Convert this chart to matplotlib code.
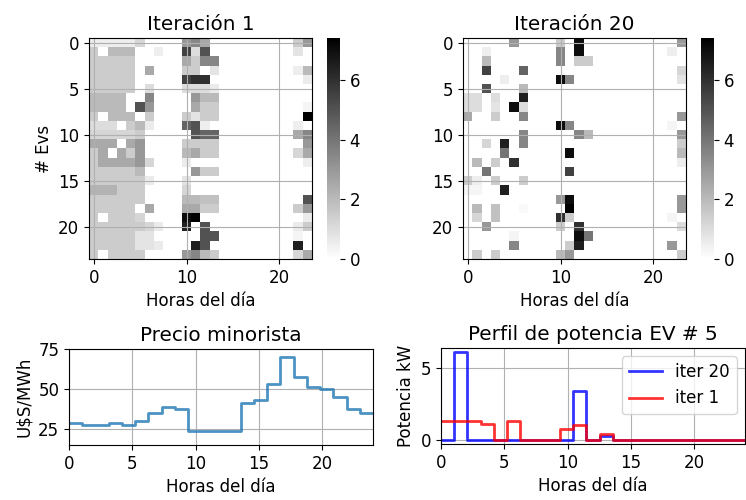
import numpy as np
import matplotlib
matplotlib.use('Agg')
import matplotlib.pyplot as plt

plt.rcParams['font.size'] = 12

# Carga de EVs (kW) por hora, iteracion 1 y 20 (24 EVs x 24 horas)
carga_iter1 = [
    [0.5,0.5,0.5,0.5,0.5,1.2,0,0,0,0,3,3.5,2.5,0,0,0,0,0,0,0,0,0,1.5,3],
    [1.5,0,2,2,2,0,0,0.5,0,0,5.5,1,5,0,0,0,0,0,0,0,0,0,0.8,0],
    [1.5,1.5,1.5,1.5,1.5,0,0,0,0,0,2.5,1.5,3.5,3.5,0,0,0,0,0,0,0,0,0,0],
    [1.5,1.5,1.5,1.5,1.5,0,2.5,0,0,0,1.5,1.5,0,0.8,0,0,0,0,0,0,0,0,0.5,2],
    [1.5,1.5,1.5,1.5,1.5,0,0,0,0,0,5.5,6,6,0,0,0,0,0,0,0,0,0,0,0.6],
    [1.5,1.5,1.5,1.5,1.5,0,1,0,0,0,1,1,1,0.6,0,0,0,0,0,0,0,0,0,0],
    [2,2,2,2,0,0,3.5,0,0,0,0,3,2,2,0,0,0,0,0,0,0,0,0,0],
    [2,2,2,2,0,5,3,0,0,0,0,2.5,1.5,1.5,0,0,0,0,0,0,0,0,0,0.3],
    [1.5,0,2,2,2,0,1.5,0,0,0,1.5,0.8,1.5,1.5,0,0,0,0,0,0,0,0,0,7.4],
    [1,1,1,0,1.5,2,0.6,0,0,0,4.5,5,0.5,0,0,0,0,0,0,0,0,0,0.5,0],
    [1.2,1.2,1.2,1.2,1.2,1.5,0,0,0,0,0,5,4.5,4.5,0,0,0,0,0,0,0,0,2.5,3.5],
    [2.5,2.5,2.5,0,2.5,3,0,0,0,0,1.5,1.5,1.5,1.5,0,0,0,0,0,0,0,0,0,3],
    [1.5,2.5,0,2.5,1.5,3,0,0,0,0,2,2.5,1.5,1.5,0,0,0,0,0,0,0,0,1.2,2.5],
    [1.5,2.5,2.5,2.5,2.5,3,1.2,0,0,0,0.6,0,0,0,0,0,0,0,0,0,0,0,0,0.5],
    [1.5,1.5,1.5,1.5,1.5,2,0,0,0,0,0,3,1.5,1.5,0,0,0,0,0,0,0,0,0,0],
    [1.5,1.5,1.5,1.5,1.5,1.5,0.6,0,0,0,0.8,0,0,0,0,0,0,0,0,0,0,0,0,0],
    [2.2,2.2,2.2,1.5,1.5,1.5,0,0,0,0,1.2,0,0,0,0,0,0,0,0,0,0,0,0,0],
    [1.5,1.5,1.5,1.5,1.5,1.5,0,0,0,0,2,2,1.8,1.8,0,0,0,0,0,0,0,0,0,5],
    [1.5,1.5,1.5,1.5,1.5,0,2.5,0,0,0,2.5,2.5,1.5,1.5,0,0,0,0,0,0,0,0,1.5,3],
    [1.5,0,1.5,1.5,1.5,1.2,0,0,0,0,7,7.3,0,0,0,0,0,0,0,0,0,0,0,0.6],
    [1.5,1.5,1.5,1.5,1.5,1.5,1.2,0.6,0,0,6.5,0,5,0,0,0,0,0,0,0,0,0,0.6,1.5],
    [1.5,1.5,1.5,1.5,1.5,0.8,0.8,0,0,0,0,0,5,5,0,0,0,0,0,0,0,0,0.3,0],
    [1.5,1.5,1.5,1.5,1.5,0.8,0.8,0.6,0,0,0,6.5,5,0,0,0,0,0,0,0,0,0,6.5,0],
    [1.5,0,1.5,1.5,1.5,1.5,0,0,0,0,3,3.5,2,1.5,0,0,0,0,0,0,0,0,1.2,2.5],
]

carga_iter20 = [
    [0,0,0,0,0,3,0,0,0,0,1.5,0,7,0,0,0,0,0,0,0,0,0,0,3],
    [0,0,0.5,0,0,0,0,0,0,0,3.5,0,7,0,0,0,0,0,0,0,0,0,0.5,0],
    [0,0,2,0,0,0,0,0,0,0,3.5,0,1.5,1.5,0,0,0,0,0,0,0,0,0,0],
    [0,0,5.5,0,0,0,4.5,0,0,0,0,0,0,0,0,0,0,0,0,0,0,0,0,1.2],
    [0,0,0,0,0.5,0,0,0,0,0,7,3.5,0,0,0,0,0,0,0,0,0,0,0,0.8],
    [0,0,5,0,0,0,2,0,0,0,0,0,0,0,0,0,0,0,0,0,0,0,0,0],
    [1,1,0,1,0,0,6.5,0,0,0,0,0,0,0,0,0,0,0,0,0,0,0,0,0],
    [1,1,0,0.8,0,7,1,0,0,0,0,0,0,0,0,0,0,0,0,0,0,0,0,0],
    [2.5,0,0,1.5,0,0,3.5,0,0,0,0,0,0,0,0,0,0,0,0,0,0,0,0,3],
    [0,0,0,0,0,0,0,0,0,0,7,3.5,0,0,0,0,0,0,0,0,0,0,0.3,0],
    [0,0,0,0,0,0,3.5,0,0,0,0,0,3.5,2,0,0,0,0,0,0,0,0,0,3],
    [0,0,1.2,0,6.5,0,3.5,0,0,0,0,0,0,0,0,0,0,0,0,0,0,0,0,1.5],
    [0,0,0,0,4,0,0,0,0,0,0,7,0,0,0,0,0,0,0,0,0,0,0,2],
    [0,2,0,1.5,0,6,0,0,0,0,0,0,0,0,0,0,0,0,0,0,0,0,0,0.5],
    [0,0,4,0,0,0,0,0,0,0,0,5.5,0,0,0,0,0,0,0,0,0,0,0,0],
    [1.5,0.5,0,1.5,0,0,1.5,0,0,0,0,0,0,0,0,0,0,0,0,0,0,0,0,0],
    [0.3,0.3,0,0,6.5,0,0,0,0,0,0,0,0,0,0,0,0,0,0,0,0,0,0,0],
    [0,0,0,0,0,0,0,0,0,0,3,7,0,0,0,0,0,0,0,0,0,0,0,3],
    [0,2,0,1.8,0,0,0.2,0,0,0,0,7.4,0,0,0,0,0,0,0,0,0,0,0,3],
    [0,1.2,0,1.8,0,0,0,0,0,0,6,1.5,0,0,0,0,0,0,0,0,0,0,0.3,0],
    [0,0,3,0,0,0,0,0,0,0,1.5,0,6,0,0,0,0,0,0,0,0,0,0,1],
    [0,0,0,0,0,0.3,0,0,0,0,0,0,7,4,0,0,0,0,0,0,0,0,0,0],
    [0,0,0,0,0,3.5,0,0,0,0,0,1.5,6.5,0,0,0,0,0,0,0,0,0,3,0],
    [0,1.5,0,1.5,0,0,0,0,0,0,2,3,0,0,0,0,0,0,0,0,0,0,0,1.5],
]

# Precio minorista (U$S/MWh)
precio = [28.5, 28.5, 27.5, 27.5, 28.5, 27.5, 30, 35, 38.5, 37.5, 23.5, 23.5,
          23.5, 23.5, 41, 43, 53, 70, 57.5, 51, 50, 45, 37.5, 35]

# Perfil de potencia del EV # 5 (kW)
ev5_iter20 = [0, 0, 6.1, 0, 0, 0, 0, 0, 0, 0, 0, 3.4,
              0, 0.25, 0, 0, 0, 0, 0, 0, 0, 0, 0, 0]
ev5_iter1 = [1.28, 1.28, 1.28, 1.28, 1.12, 0, 1.28, 0, 0, 0, 0.77, 1.0,
             0, 0.4, 0, 0, 0, 0, 0, 0, 0, 0, 0, 0]

horas = np.linspace(0, 24, 24)

fig = plt.figure(figsize=(7.46, 5.0), dpi=100)

# posiciones en pixeles -> fraccion de figura
W, H = 746, 500
def px(x0, y0, x1, y1):
    return [x0 / W, 1 - y1 / H, (x1 - x0) / W, (y1 - y0) / H]

for i, (datos, titulo) in enumerate([(carga_iter1, 'Iteración 1'),
                                     (carga_iter20, 'Iteración 20')]):
    x0 = 89 if i == 0 else 463
    ax = fig.add_axes(px(x0, 38, x0 + 223, 259))
    cax = fig.add_axes(px(x0 + 238, 38, x0 + 251, 259))
    im = ax.imshow(np.array(datos), cmap='gray_r', vmin=0, vmax=7.4,
                   aspect='auto', interpolation='nearest')
    ax.set_title(titulo)
    ax.set_xlabel('Horas del día')
    if i == 0:
        ax.set_ylabel('# Evs')
    ax.set_xticks([0, 10, 20])
    ax.set_yticks([0, 5, 10, 15, 20])
    ax.grid(True)
    cb = fig.colorbar(im, cax=cax)
    cb.set_ticks([0, 2, 4, 6])
    cb.outline.set_visible(False)

# precio
ax3 = fig.add_axes(px(69, 349, 373, 445))
ax3.step(horas, precio, color='#1f77b4', alpha=0.8, lw=2)
ax3.set_xlim(0, 24)
ax3.set_ylim(15, 75)
ax3.set_yticks([25, 50, 75])
ax3.set_title('Precio minorista')
ax3.set_xlabel('Horas del día')
ax3.set_ylabel('U$S/MWh')
ax3.grid(True)

# perfil EV 5
ax4 = fig.add_axes(px(441, 348, 745, 444))
ax4.step(horas, ev5_iter20, color='blue', alpha=0.8, lw=2, label='iter 20')
ax4.step(horas, ev5_iter1, color='red', alpha=0.8, lw=2, label='iter 1')
ax4.set_xlim(0, 24)
ax4.set_yticks([0, 5])
ax4.set_title('Perfil de potencia EV # 5')
ax4.set_xlabel('Horas del día')
ax4.set_ylabel('Potencia kW')
ax4.grid(True)
ax4.legend(loc='upper right')

fig.savefig('out.png', dpi=100)
